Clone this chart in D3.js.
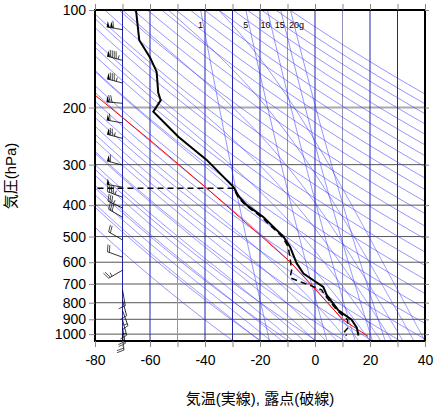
<!DOCTYPE html>
<html><head><meta charset="utf-8">
<script src="https://cdn.jsdelivr.net/npm/d3@7"></script>
<style>body{margin:0;background:#fff}svg{font-family:"Liberation Sans","Noto Sans CJK JP",sans-serif}</style>
</head><body><svg width="436" height="411"></svg>
<script>
// observed profile (hPa, degC)
var tempP = [100,124,140,155,180,190,206,246,290,351,378,400,435,500,537,604,650,682,715,758,844,903,955,1010];
var tempT = [-65.1,-63.9,-60,-57.6,-57,-56.1,-58.8,-49.7,-39.4,-29.7,-27.5,-24.8,-18.8,-11.5,-9.1,-6.7,-4.2,-0.6,3.0,4.3,8.5,13.3,15.2,15.8];
var dewP = [355,355,378,400,435,500,537,577,636,670,730,758,844,903,955,992,1010];
var dewT = [-90,-29.6,-28,-25.3,-19.5,-12,-9.8,-9.1,-8.5,-9.1,2.4,3.6,8,11.8,12,10.3,11.5];
var parcelP = [1016,903,598,500,351,252,183];
var parcelT = [19.3,10.2,-9.1,-19.4,-40,-60,-80];
var windP = [115,143,168,194,223,249,301,352,378,408,436,512,579,635,730,786,846,903,955,1000];
var windDir = [280,285,285,275,280,285,285,280,290,295,300,300,290,240,170,165,160,165,170,175];
var windSpd = [110,95,85,70,60,75,60,50,45,35,30,20,20,25,10,10,15,15,20,20];
var xTicks = [-80,-60,-40,-20,0,20,40];
var yTicks = [100,200,300,400,500,600,700,800,900,1000];
var mixRatios = [1,5,10,15,20];

var L = 95, R = 425, T = 10, B = 341;
var svg = d3.select("svg");
var x = d3.scaleLinear().domain([-80,40]).range([L,R]);
var y = d3.scaleLog().domain([100,1050]).range([T,B]);

svg.append("clipPath").attr("id","c").append("rect").attr("x",L).attr("y",T).attr("width",R-L).attr("height",B-T);
var g = svg.append("g").attr("clip-path","url(#c)");
var line = d3.line().x(d => x(d[1])).y(d => y(d[0]));
var pLevels = d3.range(100,1061,10);

// isobars
yTicks.forEach(p => g.append("line").attr("x1",L).attr("x2",R).attr("y1",y(p)).attr("y2",y(p))
  .attr("stroke", (p==200||p==700) ? "#aaa" : "#555").attr("stroke-width", (p==200||p==700) ? 2 : 1));
// isotherms
d3.range(-70,40,10).forEach(t => g.append("line").attr("x1",x(t)).attr("x2",x(t)).attr("y1",T).attr("y2",B)
  .attr("stroke", [-50,-10,10].includes(t) ? "#9090b8" : "#2222aa").attr("stroke-width",1));

var bl = {fill:"none", stroke:"#3333ff", "stroke-width":0.7, opacity:0.75};
function draw(pts){ var p = g.append("path").attr("d", line(pts)); for (var k in bl) p.attr(k, bl[k]); }
// dry adiabats
d3.range(240,520,10).forEach(th => draw(pLevels.map(p => [p, th*Math.pow(p/1000,0.286)-273.15])));
// moist adiabats
function es(t){ return 6.112*Math.exp(17.67*t/(t+243.5)); }
d3.range(-20,44,4).forEach(t0 => {
  var pts = [], t = t0 + 273.15;
  for (var p = 1050; p >= 100; p -= 2) {
    pts.push([p, t-273.15]);
    var rs = 0.622*es(t-273.15)/(p-es(t-273.15)), Lv = 2.5e6;
    var dT = (287*t + Lv*rs)/(1004 + Lv*Lv*rs*0.622/(287*t*t))/p;
    t -= dT*2;
  }
  draw(pts);
});
// mixing ratio
function tdFromW(w,p){ var e = w*p/(622+w), a = Math.log(e/6.112); return 243.5*a/(17.67-a); }
mixRatios.forEach(w => draw(pLevels.map(p => [p, tdFromW(w,p)])));
svg.selectAll(".mr").data(mixRatios).enter().append("text").attr("x", (w,i) => x(tdFromW(w,100)) + [0,0,-2,-1,6][i])
  .attr("y",28).attr("text-anchor","middle").attr("font-size",9).text((w,i) => i==4 ? w+"g" : w);

// parcel
g.append("path").attr("d", line(d3.zip(parcelP,parcelT))).attr("fill","none").attr("stroke","red").attr("stroke-width",1);
g.append("path").attr("d", line(d3.zip(dewP,dewT))).attr("fill","none").attr("stroke","#000").attr("stroke-width",1.5).attr("stroke-dasharray","6,4");
g.append("path").attr("d", line(d3.zip(tempP,tempT))).attr("fill","none").attr("stroke","#000").attr("stroke-width",2);

// wind barbs
var bx = x(-70);
windP.forEach((p,i) => {
  var a = windDir[i]*Math.PI/180, dx = Math.sin(a), dy = -Math.cos(a);
  var y0 = y(p), len = 16, s = windSpd[i], pos = len, bg = svg.append("g");
  var px = -dy, py = dx;
  var pt = d => [bx + dx*d, y0 + dy*d];
  bg.append("line").attr("x1",bx).attr("y1",y0).attr("x2",pt(len)[0]).attr("y2",pt(len)[1]).attr("stroke","#000").attr("stroke-width",0.8);
  while (s >= 50) { var a1 = pt(pos), a2 = pt(pos-3);
    bg.append("path").attr("d","M"+a1+"L"+[a1[0]+px*6,a1[1]+py*6]+"L"+a2+"Z").attr("fill","#000"); pos -= 3.5; s -= 50; }
  while (s >= 10) { var b = pt(pos);
    bg.append("line").attr("x1",b[0]).attr("y1",b[1]).attr("x2",b[0]+px*7+dx*2).attr("y2",b[1]+py*7+dy*2).attr("stroke","#000").attr("stroke-width",0.7); pos -= 2; s -= 10; }
  if (s >= 5) { var b = pt(pos);
    bg.append("line").attr("x1",b[0]).attr("y1",b[1]).attr("x2",b[0]+px*4).attr("y2",b[1]+py*4).attr("stroke","#000").attr("stroke-width",0.7); }
});

// frame
svg.append("rect").attr("x",L).attr("y",T).attr("width",R-L).attr("height",B-T).attr("fill","none").attr("stroke","#000").attr("stroke-width",2);
svg.append("g").attr("transform","translate(0,"+B+")").call(d3.axisBottom(x).tickValues(d3.range(-80,41,10)).tickSize(6).tickFormat(d => xTicks.includes(d) ? d : ""))
  .call(a => a.select(".domain").remove()).call(a => a.selectAll("text").attr("font-size",14).attr("dy","1.1em"));
svg.append("g").attr("transform","translate(0,"+T+")").call(d3.axisTop(x).tickValues(d3.range(-80,41,10)).tickSize(6).tickFormat(""))
  .call(a => a.select(".domain").remove());
svg.append("g").attr("transform","translate("+L+",0)").call(d3.axisLeft(y).tickValues(yTicks).tickSize(6).tickFormat(d3.format("d")))
  .call(a => a.select(".domain").remove()).call(a => a.selectAll("text").attr("font-size",14));
svg.append("g").attr("transform","translate("+R+",0)").call(d3.axisRight(y).tickValues(yTicks).tickSize(4).tickFormat(""))
  .call(a => a.select(".domain").remove());
svg.selectAll(".tick line").attr("stroke","#888");
svg.selectAll("text").attr("font-family","Liberation Sans, Noto Sans CJK JP, sans-serif");

svg.append("text").attr("transform","translate(16,176) rotate(-90)").attr("text-anchor","middle").attr("font-size",15).text("気圧(hPa)");
svg.append("text").attr("x",260).attr("y",404).attr("text-anchor","middle").attr("font-size",15).text("気温(実線), 露点(破線)");
</script></body></html>
